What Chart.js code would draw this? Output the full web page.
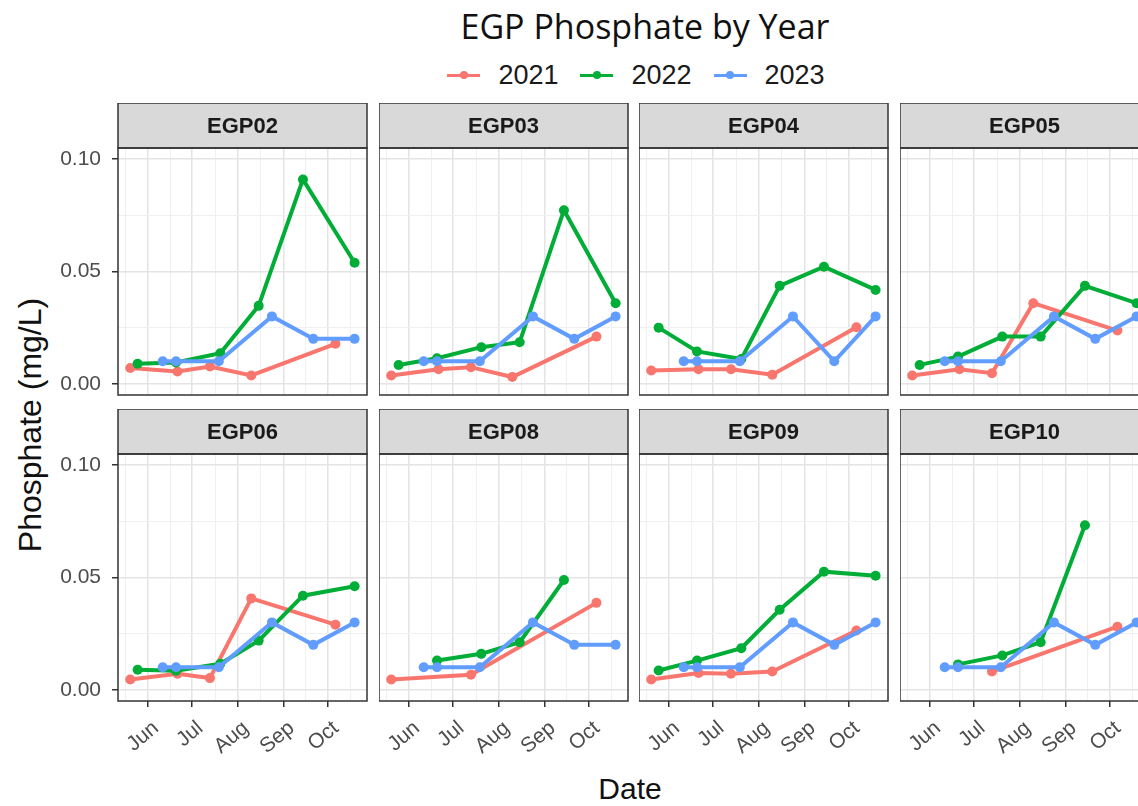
<!DOCTYPE html>
<html>
<head>
<meta charset="utf-8">
<title>EGP Phosphate by Year</title>
<script src="https://cdn.jsdelivr.net/npm/chart.js@4.4.1/dist/chart.umd.min.js"></script>
<style>
  html, body { margin: 0; padding: 0; background: #ffffff; }
  body { position: relative; width: 1138px; height: 806px; overflow: hidden;
         font-family: "Liberation Sans", Arial, sans-serif; }
  canvas.panel { position: absolute; }
  #title { position: absolute; left: 345px; width: 600px; top: 6px; text-align: center;
           font-family: "Open Sans", "Noto Sans", sans-serif; font-size: 34px; line-height: 40px; color: #111; }
  #legend { position: absolute; left: 0; width: 1272px; top: 57px; height: 36px;
            display: flex; justify-content: center; align-items: center; }
  .item { display: flex; align-items: center; margin: 0 11px; }
  .key { position: relative; width: 33px; height: 10px; margin-right: 18px; }
  .key .ln { position: absolute; left: 0; right: 0; top: 3.5px; height: 3px; }
  .key .dot { position: absolute; left: 12.5px; top: 1px; width: 8px; height: 8px; border-radius: 50%; }
  .item span.txt { font-size: 27px; color: #1a1a1a; }
  #ytitle { position: absolute; left: 30px; top: 425px; transform: translate(-50%, -50%) rotate(-90deg);
            white-space: nowrap; font-size: 32px; color: #111; }
  #xtitle { position: absolute; left: 630px; top: 789px; transform: translate(-50%, -50%);
            font-size: 30px; color: #111; }
</style>
</head>
<body>
<div id="title">EGP Phosphate by Year</div>
<div id="legend"></div>
<div id="ytitle">Phosphate (mg/L)</div>
<div id="xtitle">Date</div>
<script>
// ---- data -------------------------------------------------------------
const sites = ['EGP02', 'EGP03', 'EGP04', 'EGP05', 'EGP06', 'EGP08', 'EGP09', 'EGP10'];
const years = ['2021', '2022', '2023'];

// sampling dates as day of year
const days2021 = [140, 172, 194, 222, 279];
const days2022 = [145, 171, 201, 227, 257, 292];
const days2023 = [162, 171, 200, 236, 264, 292];

// phosphate (mg/L), one row per site in the order of `sites`; null = not sampled
const phosphate2021 = [
  [0.0070, 0.0055, 0.0077, 0.0037, 0.0178],
  [0.0037, 0.0065, 0.0074, 0.0030, 0.0210],
  [0.0059, 0.0065, 0.0065, 0.0040, 0.0252],
  [0.0037, 0.0065, 0.0047, 0.0359, 0.0237],
  [0.0046, 0.0071, 0.0052, 0.0407, 0.0290],
  [0.0046, null,   0.0067, null,   0.0387],
  [0.0046, 0.0075, 0.0071, 0.0081, 0.0264],
  [null,   null,   0.0081, null,   0.0281]
];
const phosphate2022 = [
  [0.0089, 0.0095, 0.0136, 0.0347, 0.0910, 0.0539],
  [0.0084, 0.0114, 0.0163, 0.0185, 0.0773, 0.0359],
  [0.0250, 0.0144, 0.0110, 0.0436, 0.0521, 0.0418],
  [0.0084, 0.0121, 0.0210, 0.0210, 0.0436, 0.0359],
  [0.0089, 0.0085, 0.0116, 0.0219, 0.0419, 0.0461],
  [null,   0.0130, 0.0160, 0.0212, 0.0489, null  ],
  [0.0086, 0.0130, 0.0185, 0.0356, 0.0526, 0.0508],
  [null,   0.0113, 0.0153, 0.0212, 0.0733, null  ]
];
const phosphate2023 = [
  [0.010, 0.010, 0.010, 0.030, 0.020, 0.020],
  [0.010, 0.010, 0.010, 0.030, 0.020, 0.030],
  [0.010, 0.010, 0.010, 0.030, 0.010, 0.030],
  [0.010, 0.010, 0.010, 0.030, 0.020, 0.030],
  [0.010, 0.010, 0.010, 0.030, 0.020, 0.030],
  [0.010, 0.010, 0.010, 0.030, 0.020, 0.020],
  [0.010, 0.010, 0.010, 0.030, 0.020, 0.030],
  [0.010, 0.010, 0.010, 0.030, 0.020, 0.030]
];

// axis breaks
const monthTicks = [152, 182, 213, 244, 274];
const monthLabels = ['Jun', 'Jul', 'Aug', 'Sep', 'Oct'];
const midMonthTicks = [136.5, 167, 197.5, 228.5, 259, 289.5];
const yMajorTicks = [0, 0.05, 0.10];
const yMinorTicks = [0.025, 0.075];

// ---- styling / layout -------------------------------------------------
const yearColors = ['#F8766D', '#00AD36', '#619CFF'];
const yearDays = [days2021, days2022, days2023];
const yearValues = [phosphate2021, phosphate2022, phosphate2023];

const COL_LEFT = [118, 379, 639, 900];
const ROW_TOP = [103, 409];
const PANEL_W = 249;
const STRIP_H = 45;
const PLOT_H = 247;
const Y_AXIS_W = 118;
const X_AXIS_H = 72;
const X_RANGE = [131.7, 300.4];
const Y_RANGE = [-0.005, 0.105];
const TICK_FONT = { family: '"Liberation Sans", Arial, sans-serif', size: 21 };

const isMajorX = v => monthTicks.includes(v);
const isMajorY = v => yMajorTicks.some(t => Math.abs(t - v) < 1e-9);

// grey facet strip above each panel plus the dark panel frame
const facetStrip = {
  id: 'facetStrip',
  afterDraw(chart, args, opts) {
    const { ctx, chartArea: a } = chart;
    ctx.save();
    ctx.fillStyle = '#D9D9D9';
    ctx.fillRect(a.left, a.top - STRIP_H, a.right - a.left, STRIP_H);
    ctx.strokeStyle = '#333333';
    ctx.lineWidth = 1.5;
    ctx.strokeRect(a.left, a.top - STRIP_H, a.right - a.left, STRIP_H);
    ctx.strokeRect(a.left, a.top, a.right - a.left, a.bottom - a.top);
    ctx.fillStyle = '#1A1A1A';
    ctx.font = 'bold 22px "Liberation Sans", Arial, sans-serif';
    ctx.textAlign = 'center';
    ctx.textBaseline = 'middle';
    ctx.fillText(opts.text, (a.left + a.right) / 2, a.top - STRIP_H / 2 + 1);
    ctx.restore();
  }
};

function buildDatasets(siteIdx) {
  return years.map((yr, k) => {
    const pts = [];
    yearDays[k].forEach((d, i) => {
      const v = yearValues[k][siteIdx][i];
      if (v !== null) pts.push({ x: d, y: v });
    });
    return {
      label: yr,
      data: pts,
      borderColor: yearColors[k],
      backgroundColor: yearColors[k],
      borderWidth: 4,
      pointRadius: 5,
      pointBorderWidth: 0,
      pointBackgroundColor: yearColors[k],
      tension: 0,
      order: 3 - k
    };
  });
}

function makePanel(siteIdx) {
  const col = siteIdx % 4;
  const row = Math.floor(siteIdx / 4);
  const yW = col === 0 ? Y_AXIS_W : 0;
  const xH = row === 1 ? X_AXIS_H : 0;
  const padBottom = row === 1 ? 0 : 2;
  const w = yW + PANEL_W + 2;
  const h = STRIP_H + PLOT_H + xH + padBottom;

  const canvas = document.createElement('canvas');
  canvas.className = 'panel';
  canvas.width = w;
  canvas.height = h;
  canvas.style.left = (COL_LEFT[col] - yW) + 'px';
  canvas.style.top = ROW_TOP[row] + 'px';
  canvas.style.width = w + 'px';
  canvas.style.height = h + 'px';
  document.body.appendChild(canvas);

  new Chart(canvas, {
    type: 'line',
    data: { datasets: buildDatasets(siteIdx) },
    plugins: [facetStrip],
    options: {
      responsive: false,
      animation: false,
      devicePixelRatio: 1,
      layout: { autoPadding: false, padding: { top: STRIP_H, right: 2, bottom: padBottom, left: 0 } },
      plugins: {
        legend: { display: false },
        tooltip: { enabled: false },
        facetStrip: { text: sites[siteIdx] }
      },
      scales: {
        x: {
          type: 'linear',
          min: X_RANGE[0],
          max: X_RANGE[1],
          afterBuildTicks: s => {
            s.ticks = [...midMonthTicks, ...monthTicks].sort((a, b) => a - b).map(v => ({ value: v }));
          },
          afterFit: s => { s.height = xH; s.paddingLeft = s.paddingRight = s.paddingTop = s.paddingBottom = 0; },
          border: { display: false },
          grid: {
            color: c => isMajorX(c.tick.value) ? '#E4E4E4' : '#F0F0F0',
            lineWidth: c => isMajorX(c.tick.value) ? 1.5 : 1,
            drawTicks: row === 1,
            tickLength: 6,
            tickWidth: 1.5,
            tickColor: c => isMajorX(c.tick.value) ? '#333333' : 'rgba(0,0,0,0)'
          },
          ticks: {
            display: row === 1,
            autoSkip: false,
            minRotation: 40,
            maxRotation: 40,
            padding: 9,
            labelOffset: 8,
            color: '#4D4D4D',
            font: TICK_FONT,
            callback: v => { const i = monthTicks.indexOf(v); return i >= 0 ? monthLabels[i] : ''; }
          }
        },
        y: {
          type: 'linear',
          min: Y_RANGE[0],
          max: Y_RANGE[1],
          afterBuildTicks: s => {
            s.ticks = [...yMajorTicks, ...yMinorTicks].sort((a, b) => a - b).map(v => ({ value: v }));
          },
          afterFit: s => { s.width = yW; s.paddingLeft = s.paddingRight = s.paddingTop = s.paddingBottom = 0; },
          border: { display: false },
          grid: {
            color: c => isMajorY(c.tick.value) ? '#E4E4E4' : '#F0F0F0',
            lineWidth: c => isMajorY(c.tick.value) ? 1.5 : 1,
            drawTicks: col === 0,
            tickLength: 6,
            tickWidth: 1.5,
            tickColor: c => isMajorY(c.tick.value) ? '#333333' : 'rgba(0,0,0,0)'
          },
          ticks: {
            display: col === 0,
            autoSkip: false,
            padding: 11,
            color: '#4D4D4D',
            font: TICK_FONT,
            callback: v => isMajorY(v) ? v.toFixed(2) : ''
          }
        }
      }
    }
  });
}

// legend keys built from the series colours
const legend = document.getElementById('legend');
years.forEach((yr, k) => {
  const item = document.createElement('div');
  item.className = 'item';
  item.innerHTML = '<div class="key"><div class="ln" style="background:' + yearColors[k] +
    '"></div><div class="dot" style="background:' + yearColors[k] + '"></div></div><span class="txt">' + yr + '</span>';
  legend.appendChild(item);
});

sites.forEach((s, i) => makePanel(i));
</script>
</body>
</html>
